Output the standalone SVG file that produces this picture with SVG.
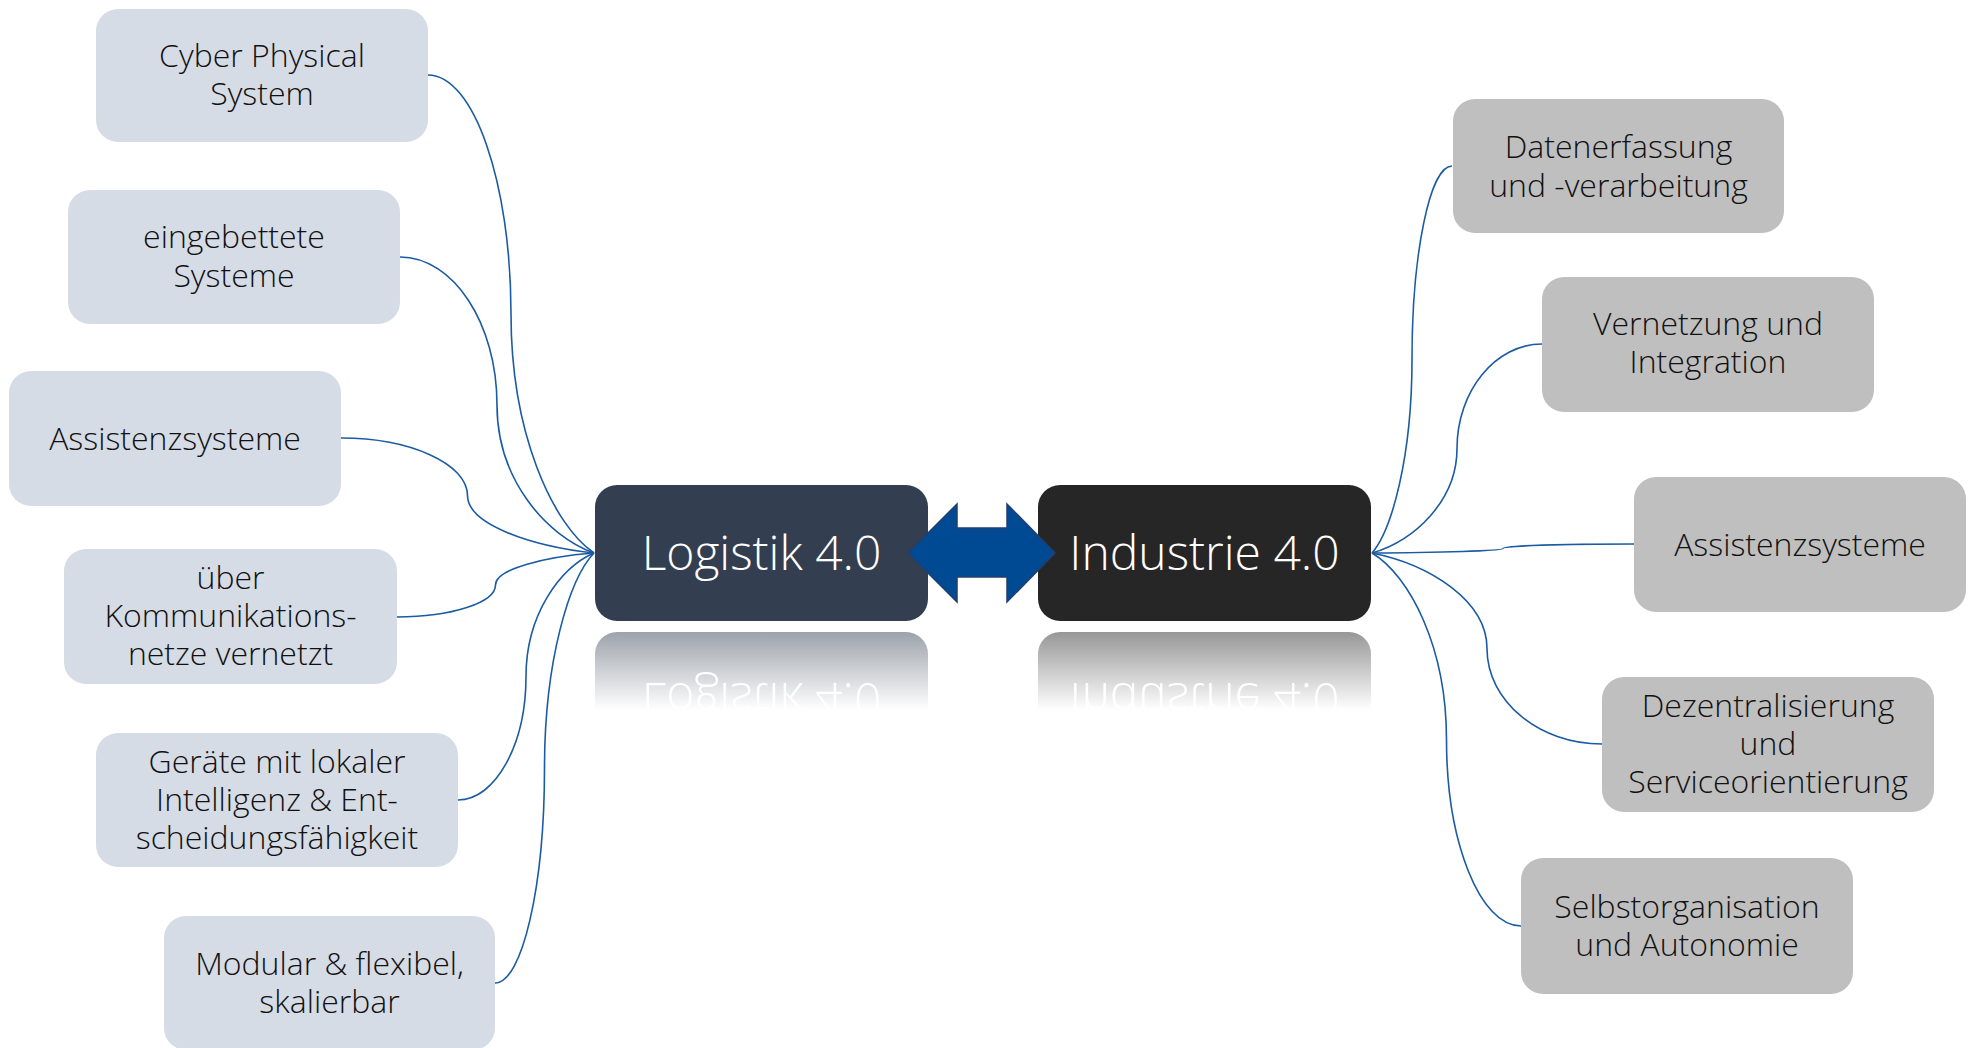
<svg xmlns="http://www.w3.org/2000/svg" width="1974" height="1048" viewBox="0 0 1974 1048">
  <style>
    .lnode { fill: #D6DCE5; }
    .rnode { fill: #BFBFBF; }
    .t { font-family: "Open Sans", "Liberation Sans", sans-serif; font-weight: 300; font-size: 32px; fill: #111111; text-anchor: middle; }
    .ct { font-family: "Open Sans", "Liberation Sans", sans-serif; font-weight: 300; font-size: 48px; fill: #FFFFFF; text-anchor: middle; }
    .conn { fill: none; stroke: #1B5BA3; stroke-width: 1.6; }
  </style>
  <defs>
    <linearGradient id="fadeGrad" gradientUnits="userSpaceOnUse" x1="0" y1="632" x2="0" y2="710">
      <stop offset="0" stop-color="#FFFFFF" stop-opacity="0.48"/>
      <stop offset="1" stop-color="#FFFFFF" stop-opacity="0"/>
    </linearGradient>
    <mask id="fade" maskUnits="userSpaceOnUse" x="0" y="626" width="1974" height="100">
      <rect x="0" y="626" width="1974" height="100" fill="url(#fadeGrad)"/>
    </mask>
  </defs>
  <rect x="0" y="0" width="1974" height="1048" fill="#FFFFFF"/>

  <g id="connectors">
    <path class="conn" d="M428,75 C473.7,75 511,182.5 511,314 C511,433.5 552.5,524.3 594,553"/>
    <path class="conn" d="M400,257 C453.4,257 497,323.6 497,405 C497,479 545.5,535.2 594,553"/>
    <path class="conn" d="M341,438 C410.6,438 467.5,463.9 467.5,495.5 C467.5,524.3 530.8,546.1 594,553"/>
    <path class="conn" d="M397,617 C451.7,617 495.5,602.6 495.5,585 C495.5,569 544.8,556.8 594,553"/>
    <path class="conn" d="M458,800 C495.4,800 526,744.4 526,676.5 C526,614.8 560,567.8 594,553"/>
    <path class="conn" d="M495,983 C522.2,983 544.5,886.3 544.5,768 C544.5,660.5 569.3,578.8 594,553"/>
    <path class="conn" d="M1372,553 C1392,529.8 1412,456.3 1412,359.5 C1412,253.1 1430,166 1452,166"/>
    <path class="conn" d="M1372,553 C1414.5,540.5 1457,500.8 1457,448.5 C1457,391 1495.3,344 1542,344"/>
    <path class="conn" d="M1372,553 C1437.5,552.5 1503,550.8 1503,548.5 C1503,546 1562,544 1634,544"/>
    <path class="conn" d="M1372,553 C1429.5,564.5 1487,600.8 1487,648.5 C1487,701 1538.8,744 1602,744"/>
    <path class="conn" d="M1372,553 C1409.3,575.4 1446.5,646.3 1446.5,739.5 C1446.5,842.1 1480,926 1521,926"/>
  </g>

  <g id="node-cyber">
    <rect class="lnode" x="96" y="9" width="332" height="133" rx="22"/>
    <text class="t" x="262" y="67">Cyber Physical</text>
    <text class="t" x="262" y="105">System</text>
  </g>
  <g id="node-eingebettet">
    <rect class="lnode" x="68" y="190" width="332" height="134" rx="22"/>
    <text class="t" x="234" y="248">eingebettete</text>
    <text class="t" x="234" y="287">Systeme</text>
  </g>
  <g id="node-assist-left">
    <rect class="lnode" x="9" y="371" width="332" height="135" rx="22"/>
    <text class="t" x="175" y="450">Assistenzsysteme</text>
  </g>
  <g id="node-kommunikation">
    <rect class="lnode" x="64" y="549" width="333" height="135" rx="22"/>
    <text class="t" x="230.5" y="589">über</text>
    <text class="t" x="230.5" y="627">Kommunikations-</text>
    <text class="t" x="230.5" y="665">netze vernetzt</text>
  </g>
  <g id="node-geraete">
    <rect class="lnode" x="96" y="733" width="362" height="134" rx="22"/>
    <text class="t" x="277" y="773">Geräte mit lokaler</text>
    <text class="t" x="277" y="811">Intelligenz &amp; Ent-</text>
    <text class="t" x="277" y="849">scheidungsfähigkeit</text>
  </g>
  <g id="node-modular">
    <rect class="lnode" x="164" y="916" width="331" height="134" rx="22"/>
    <text class="t" x="329.5" y="975">Modular &amp; flexibel,</text>
    <text class="t" x="329.5" y="1013">skalierbar</text>
  </g>

  <g id="node-daten">
    <rect class="rnode" x="1453" y="99" width="331" height="134" rx="22"/>
    <text class="t" x="1618.5" y="158">Datenerfassung</text>
    <text class="t" x="1618.5" y="197">und -verarbeitung</text>
  </g>
  <g id="node-vernetzung">
    <rect class="rnode" x="1542" y="277" width="332" height="135" rx="22"/>
    <text class="t" x="1708" y="335">Vernetzung und</text>
    <text class="t" x="1708" y="373">Integration</text>
  </g>
  <g id="node-assist-right">
    <rect class="rnode" x="1634" y="477" width="332" height="135" rx="22"/>
    <text class="t" x="1800" y="556">Assistenzsysteme</text>
  </g>
  <g id="node-dezentral">
    <rect class="rnode" x="1602" y="677" width="332" height="135" rx="22"/>
    <text class="t" x="1768" y="717">Dezentralisierung</text>
    <text class="t" x="1768" y="755">und</text>
    <text class="t" x="1768" y="793">Serviceorientierung</text>
  </g>
  <g id="node-selbst">
    <rect class="rnode" x="1521" y="858" width="332" height="136" rx="22"/>
    <text class="t" x="1687" y="918">Selbstorganisation</text>
    <text class="t" x="1687" y="956">und Autonomie</text>
  </g>

  <g id="node-logistik">
    <rect x="595" y="485" width="333" height="136" rx="22" fill="#333F50"/>
    <text class="ct" x="761.5" y="570">Logistik 4.0</text>
    <g mask="url(#fade)">
      <g transform="translate(0,1253) scale(1,-1)">
        <rect x="595" y="485" width="333" height="136" rx="22" fill="#333F50"/>
        <text class="ct" x="761.5" y="570">Logistik 4.0</text>
      </g>
    </g>
  </g>
  <g id="node-industrie">
    <rect x="1038" y="485" width="333" height="136" rx="22" fill="#262626"/>
    <text class="ct" x="1204.5" y="570">Industrie 4.0</text>
    <g mask="url(#fade)">
      <g transform="translate(0,1253) scale(1,-1)">
        <rect x="1038" y="485" width="333" height="136" rx="22" fill="#262626"/>
        <text class="ct" x="1204.5" y="570">Industrie 4.0</text>
      </g>
    </g>
  </g>

  <g id="double-arrow">
    <polygon points="908,553 957,504 957,528 1007,528 1007,504 1055,553 1007,602 1007,577 957,577 957,602" fill="#004A94" stroke="#1F3F6E" stroke-width="1.5" stroke-linejoin="miter"/>
  </g>
</svg>
